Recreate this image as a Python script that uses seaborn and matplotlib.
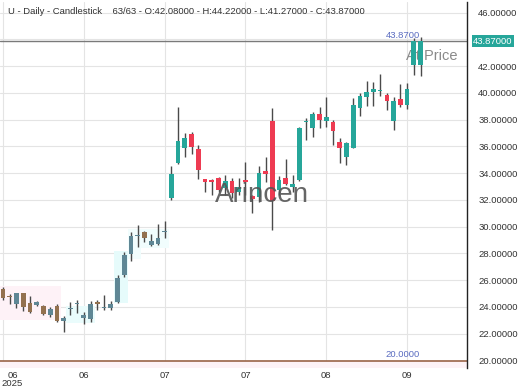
import matplotlib
matplotlib.use("Agg")
import matplotlib.pyplot as plt
import matplotlib.transforms as mtransforms
import numpy as np
import pandas as pd
import seaborn as sns

# ---- data ----
opens = [25.35, 24.80, 24.20, 25.03, 24.28, 24.15, 24.10, 23.40, 24.10, 22.96,
         23.88, 24.20, 23.15, 23.08, 24.40, 23.96, 23.95, 24.36, 26.40, 27.98,
         29.30, 29.58, 28.60, 28.73, 29.58, 32.13, 34.74, 35.91, 36.94, 35.80,
         33.57, 33.50, 33.62, 32.92, 33.42, 32.58, 33.50, 32.30, 32.25, 34.14,
         37.91, 32.75, 33.62, 33.00, 33.50, 37.80, 37.40, 38.40, 37.91, 37.86,
         36.31, 35.24, 35.91, 38.90, 39.72, 40.05, 40.15, 39.85, 37.91, 39.53,
         39.10, 42.10, 42.08]
highs = [25.52, 24.97, 25.08, 25.05, 24.85, 24.45, 24.15, 23.98, 24.20, 23.35,
         24.40, 24.50, 23.66, 24.45, 24.50, 24.90, 24.45, 26.40, 28.14, 29.63,
         30.13, 29.70, 29.44, 30.18, 30.43, 34.54, 38.93, 36.99, 37.06, 36.11,
         33.60, 33.55, 33.70, 33.87, 33.62, 33.67, 34.87, 32.40, 34.57, 35.24,
         38.86, 33.80, 35.07, 33.87, 37.45, 38.10, 38.60, 38.97, 39.72, 37.98,
         36.66, 36.36, 39.60, 39.97, 40.90, 40.84, 41.40, 39.97, 39.72, 40.64,
         40.72, 44.10, 44.22]
lows = [24.52, 24.20, 23.95, 23.70, 23.55, 24.08, 23.40, 23.28, 22.90, 22.16,
        23.40, 23.55, 22.70, 22.90, 23.78, 23.78, 23.78, 24.30, 26.27, 27.47,
        28.51, 28.88, 28.55, 28.65, 29.16, 32.00, 34.70, 35.24, 35.44, 33.55,
        32.62, 32.37, 32.62, 32.37, 32.13, 32.40, 32.37, 31.00, 31.88, 33.32,
        29.76, 32.37, 33.10, 32.62, 33.45, 36.49, 36.73, 37.36, 37.48, 36.11,
        34.79, 34.62, 35.91, 38.30, 39.05, 39.05, 39.80, 38.73, 37.23, 38.93,
        38.78, 41.35, 41.27]
closes = [24.66, 24.72, 25.03, 24.03, 23.60, 24.36, 23.46, 23.83, 22.98, 23.20,
          23.92, 24.24, 23.40, 24.20, 24.22, 24.00, 24.22, 26.15, 27.89, 29.33,
          29.36, 29.16, 28.90, 29.16, 29.63, 33.94, 36.43, 36.61, 35.99, 34.24,
          33.37, 33.32, 32.75, 33.42, 32.55, 32.95, 33.32, 32.10, 33.99, 33.94,
          31.90, 33.50, 33.17, 33.20, 37.35, 37.85, 38.40, 37.98, 38.23, 37.18,
          35.87, 36.23, 39.10, 39.80, 40.05, 40.30, 40.20, 39.40, 39.40, 39.10,
          40.27, 43.85, 43.87]

x_grid_pos = [0, 12, 24, 36, 48, 60]
x_label_pos = [1.4, 12, 24, 36, 48, 60]
x_labels = ["06", "06", "07", "07", "08", "09"]
y_ticks = [20, 22, 24, 26, 28, 30, 32, 34, 36, 38, 40, 42, 44, 46]
y_hidden = [44]
last_price = 43.87
support_level = 20.0
header = ("U - Daily - Candlestick    63/63 - O:42.08000 - H:44.22000 - "
          "L:41.27000 - C:43.87000")

# shaded zones: (x0, x1, y0, y1, colour)
zones_x0 = [-0.5, 9.4, 16.5, 18.5, 20.5]
zones_x1 = [8.6, 13.6, 18.5, 20.5, 24.6]
zones_y0 = [23.0, 22.8, 24.3, 27.6, 28.4]
zones_y1 = [25.6, 24.1, 28.2, 29.8, 29.8]
zones_c = ["#fef2f7", "#eafcfc", "#e6fbfb", "#f1fdfd", "#f1fdfd"]

# ---- style ----
sns.set_theme(style="whitegrid")
plt.rcParams['font.family'] = ['Liberation Sans', 'DejaVu Sans']

df = pd.DataFrame({"i": np.arange(len(opens)), "open": opens, "high": highs,
                   "low": lows, "close": closes})
df["up"] = df["close"] >= df["open"]

UP, DOWN = "#26a69a", "#ee3b52"
UP_M, DOWN_M = "#5f8795", "#93714f"
cols = []
for i, u in zip(df["i"], df["up"]):
    if i <= 24:
        cols.append(UP_M if u else DOWN_M)
    else:
        cols.append(UP if u else DOWN)

fig = plt.figure(figsize=(5.2, 3.9), dpi=100)
ax = fig.add_axes([0.0, 22 / 390, 467 / 520, 366 / 390])
ax.set_facecolor("white")

# zones
for x0, x1, y0, y1, c in zip(zones_x0, zones_x1, zones_y0, zones_y1, zones_c):
    ax.fill_between([x0, x1], [y0, y0], [y1, y1], color=c, lw=0, zorder=1)
ax.axhspan(19.0, support_level, color="#fdf2f6", lw=0, zorder=1)

# At Price text (behind candles)
ax.text(59.9, 42.76, "At Price", fontsize=10.5, color="#8a8a8a", ha="left",
        va="center", zorder=1.5)

# last price line & support line
ax.axhline(last_price, color="#7a7a7a", lw=1.0, zorder=2)
ax.axhline(support_level, color="#9a6447", lw=1.2, zorder=2)

# wicks
ax.vlines(df["i"], df["low"], df["high"], color="#4a4a4a", lw=1.0, zorder=3)
# bodies
body_bottom = np.minimum(df["open"], df["close"])
body_h = np.maximum(np.abs(df["close"] - df["open"]), 0.07)
ax.bar(df["i"], body_h, bottom=body_bottom, width=0.7, color=cols,
       lw=0, zorder=4)

ax.set_xlim(-0.45, 68.9)
ax.set_ylim(19.44, 46.8)

ax.set_xticks(x_grid_pos)
ax.set_xticklabels([])
ax.set_yticks(y_ticks)
ax.set_yticklabels(["" if v in y_hidden else f"{v:.5f}" for v in y_ticks])
ax.yaxis.tick_right()
ax.tick_params(axis="y", length=0, pad=8, labelsize=6.8, labelcolor="#333333")
ax.tick_params(axis="x", length=0)
ax.grid(True, color="#e4e4e4", lw=0.8)
for s in ["left", "top", "bottom"]:
    ax.spines[s].set_visible(False)
ax.spines["right"].set_visible(True)
ax.spines["right"].set_color("#222222")
ax.spines["right"].set_linewidth(1.0)

# line labels
ax.text(59.4, 44.33, "43.8700", fontsize=6.8, color="#5a6cc0", ha="center",
        va="center", zorder=6)
ax.text(59.3, 20.45, "20.0000", fontsize=6.8, color="#5a6cc0", ha="center",
        va="center", zorder=6)

# last price box on axis
tr = mtransforms.blended_transform_factory(ax.transAxes, ax.transData)
ax.text(1.013, last_price, f"{last_price:.5f}", transform=tr, fontsize=6.8,
        color="white", ha="left", va="center", clip_on=False,
        bbox=dict(boxstyle="square,pad=0.15", fc="#26a69a", ec="none"), zorder=7)

# watermark
ax.text(38.4, 32.4, "Arincen", fontsize=20, color="#555555", alpha=0.9,
        ha="center", va="center", zorder=6)

# x labels
trx = mtransforms.blended_transform_factory(ax.transData, fig.transFigure)
for p, lab in zip(x_label_pos, x_labels):
    fig.text(p, 1 - 376 / 390, lab, transform=trx, fontsize=6.8, color="#333333",
             ha="center", va="center")
fig.text(1.4, 1 - 384 / 390, "2025", transform=trx, fontsize=6.8,
         color="#333333", ha="center", va="center")

# header
fig.text(8 / 520, 1 - 12 / 390, header, fontsize=6.8, color="#333333",
         ha="left", va="center")

fig.savefig("out.png", dpi=100)
